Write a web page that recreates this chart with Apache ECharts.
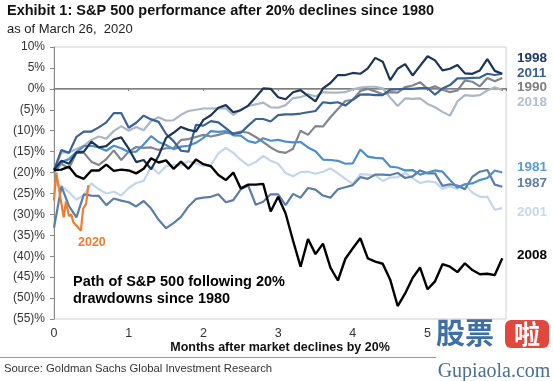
<!DOCTYPE html>
<html><head><meta charset="utf-8">
<script src="https://cdn.jsdelivr.net/npm/echarts@6/dist/echarts.min.js"></script>
<style>html,body{margin:0;padding:0;background:#fff}#c{width:553px;height:381px}</style>
</head><body><div id="c"></div>
<script>
// months after the 20% decline (calendar time)
const months = [0,0.1,0.2,0.3,0.4,0.5,0.6,0.7,0.8,0.9,1,1.1,1.2,1.3,1.4,1.5,1.6,1.7,1.8,1.9,2,2.1,2.2,2.3,2.4,2.5,2.6,2.7,2.8,2.9,3,3.1,3.2,3.3,3.4,3.5,3.6,3.7,3.8,3.9,4,4.1,4.2,4.3,4.4,4.5,4.6,4.7,4.8,4.9,5,5.1,5.2,5.3,5.4,5.5,5.6,5.7,5.8,5.9,6];
const months2020 = [0,0.03,0.13,0.16,0.2,0.23,0.26,0.36,0.39,0.43,0.46];

// S&P 500 drawdown from peak, %
const s1998 = [-19.3,-17.2,-17.9,-15.2,-15.0,-12.6,-14.0,-13.7,-12.1,-11.6,-14.3,-17.5,-17.0,-19.2,-16.0,-11.7,-10.5,-9.1,-9.8,-10.2,-7.4,-6.3,-4.5,-3.9,-5.6,-5.1,-4.0,-2.0,0.1,0.0,-2.0,-2.5,-0.8,-0.3,-1.7,-3.0,0.1,1.4,3.3,3.3,3.8,3.6,4.9,7.4,6.5,2.1,4.8,5.9,3.2,5.5,7.8,6.8,4.4,4.8,5.7,3.7,3.6,4.4,7.1,4.3,3.6];
const s2011 = [-19.4,-14.6,-15.3,-11.5,-10.2,-10.2,-9.2,-8.0,-5.8,-5.8,-9.3,-8.1,-6.4,-7.3,-7.9,-10.8,-12.5,-14.8,-15.0,-8.6,-8.8,-7.7,-8.0,-9.4,-10.8,-10.5,-8.8,-7.2,-7.2,-7.8,-6.3,-6.1,-6.1,-5.9,-5.6,-5.3,-3.2,-3.4,-3.2,-4.0,-2.6,-1.4,-1.3,-1.5,-1.5,-0.2,-0.1,0.0,0.0,0.2,0.2,-1.4,0.1,0.9,2.5,2.5,2.6,2.7,3.6,3.3,3.6];
const s1990 = [-19.9,-17.9,-19.0,-15.3,-15.3,-17.4,-18.2,-16.8,-14.7,-17.0,-15.0,-13.9,-14.1,-14.0,-14.6,-14.2,-14.2,-12.2,-12.0,-11.5,-11.0,-11.4,-11.0,-10.5,-10.6,-10.2,-10.5,-11.5,-12.7,-14.0,-15.0,-15.3,-14.3,-10.0,-11.0,-8.9,-9.0,-6.8,-4.8,-2.9,-2.6,-0.5,0.0,-0.6,-1.3,-0.8,-0.9,0.4,0.8,1.6,0.0,0.6,-0.2,-0.8,-0.4,2.0,1.7,0.6,2.6,1.8,2.6];
const s2018 = [-19.8,-15.1,-15.2,-14.4,-13.6,-12.2,-11.4,-11.9,-10.1,-8.9,-10.0,-9.1,-9.9,-7.7,-6.8,-7.6,-7.5,-6.2,-5.3,-5.0,-4.7,-4.7,-4.6,-4.7,-6.2,-5.0,-4.1,-3.7,-3.3,-4.4,-4.5,-3.9,-2.2,-2.0,-1.3,-1.8,-0.8,-0.9,-0.9,-0.8,-0.1,0.3,0.5,0.5,0.1,-2.1,-4.1,-2.3,-2.4,-2.3,-3.6,-4.4,-5.5,-6.4,-3.0,-1.5,-1.7,-1.5,-0.4,0.4,-0.3];
const s1981 = [-19.7,-17.5,-16.8,-15.1,-13.7,-13.6,-14.0,-14.8,-13.6,-14.2,-15.1,-15.0,-13.3,-11.3,-12.7,-13.4,-14.4,-13.8,-13.6,-12.9,-11.7,-10.1,-10.3,-10.1,-11.1,-11.2,-12.5,-12.9,-11.8,-12.4,-12.2,-12.6,-12.8,-12.7,-14.0,-14.9,-16.9,-17.0,-17.2,-17.9,-17.8,-14.5,-16.2,-16.5,-16.6,-18.6,-18.8,-19.5,-19.4,-20.5,-20.0,-19.5,-19.8,-21.8,-23.6,-22.8,-22.6,-21.8,-21.3,-19.5,-20.0];
const s1987 = [-33.2,-23.3,-28.0,-30.7,-25.2,-25.5,-25.6,-27.8,-26.2,-26.7,-27.1,-28.1,-26.8,-28.6,-31.3,-33.3,-32.1,-30.6,-28.1,-26.3,-26.0,-25.8,-25.2,-27.1,-26.6,-24.0,-23.1,-27.7,-27.0,-25.2,-25.2,-27.8,-25.1,-26.0,-23.7,-24.1,-25.5,-26.0,-24.0,-23.5,-23.0,-21.1,-21.5,-20.5,-20.5,-20.6,-20.1,-21.3,-20.9,-19.5,-20.2,-20.2,-23.2,-22.8,-23.1,-24.0,-21.0,-19.8,-19.4,-22.9,-23.4];
const s2001 = [-22.7,-23.2,-24.7,-26.5,-25.4,-22.6,-24.0,-25.0,-24.6,-25.5,-23.7,-22.5,-22.0,-18.6,-20.3,-18.5,-18.2,-18.3,-17.3,-17.8,-18.4,-18.2,-15.4,-14.1,-15.3,-17.0,-18.3,-17.5,-16.0,-17.2,-17.9,-20.1,-20.9,-19.9,-19.8,-20.3,-19.8,-19.0,-20.2,-21.5,-22.7,-20.4,-20.5,-20.7,-22.0,-21.2,-21.1,-20.1,-21.4,-22.5,-22.1,-22.3,-23.9,-23.3,-23.9,-22.8,-24.8,-25.8,-25.8,-28.9,-28.5];
const s2008 = [-19.4,-19.3,-18.6,-20.8,-21.5,-19.5,-19.5,-18.1,-19.6,-19.3,-19.5,-20.2,-19.1,-16.6,-17.6,-17.1,-19.1,-17.4,-19.1,-16.9,-18.0,-18.5,-20.6,-21.8,-20.0,-23.8,-22.9,-22.9,-22.7,-29.3,-25.8,-29.8,-36.3,-42.5,-35.9,-39.5,-37.0,-42.7,-45.8,-40.6,-38.1,-35.7,-40.5,-41.3,-41.8,-45.6,-51.9,-48.9,-45.2,-42.7,-47.9,-46.0,-41.9,-42.5,-43.8,-41.7,-43.3,-44.3,-44.2,-44.5,-40.5];
const s2020 = [-26.7,-20.0,-30.7,-26.9,-30.4,-30.0,-31.9,-33.9,-28.6,-27.5,-23.0];

const yearNames = ['2018','2001','1990','1987','1981','2011','1998','2008','2020'];
const yearValues = {'1998':s1998,'2011':s2011,'1990':s1990,'2018':s2018,'1981':s1981,'1987':s1987,'2001':s2001,'2008':s2008,'2020':s2020};
const yearMonths = {'2020':months2020};
const lineColors = {'1998':'#1b3557','2011':'#3a6296','1990':'#80868f','2018':'#aab7c8','1981':'#4d8fcc','1987':'#5b7ea8','2001':'#c3d6ec','2008':'#000000','2020':'#ed7d31'};
const labelColors = {'1998':'#1f3864','2011':'#3b5f8e','1990':'#808080','2018':'#b4c0d0','1981':'#5b9bd5','1987':'#5f7fa5','2001':'#c6d8ec','2008':'#000000'};
const labelY = {'1998':58,'2011':73,'1990':87,'2018':102,'1981':167,'1987':183,'2001':212,'2008':255};

const F = '"Liberation Sans", Arial, sans-serif';
const chart = echarts.init(document.getElementById('c'), null, {renderer:'canvas'});

const series = yearNames.map(n => {
  const xs = yearMonths[n] || months;
  return {
    name: n, type: 'line', symbol: 'none', smooth: false, animation: false,
    data: yearValues[n].map((v,i) => [xs[i], v]),
    lineStyle: {color: lineColors[n], width: n==='2008'?2.4:2.2},
    z: 2
  };
});

const graphic = [];
graphic.push({type:'text', x:7, y:11, style:{text:'Exhibit 1: S&P 500 performance after 20% declines since 1980', font:'bold 14.5px '+F, fill:'#111', verticalAlign:'middle'}});
graphic.push({type:'text', x:7, y:29, style:{text:'as of March 26,  2020', font:'13px '+F, fill:'#222', verticalAlign:'middle'}});
Object.keys(labelY).forEach(k => {
  graphic.push({type:'text', x:517, y:labelY[k], style:{text:k, font:'bold 13.5px '+F, fill:labelColors[k], verticalAlign:'middle'}});
});
graphic.push({type:'text', x:78, y:243, style:{text:'2020', font:'bold 12.5px '+F, fill:'#ed7d31', verticalAlign:'middle'}});
graphic.push({type:'text', x:73, y:282, style:{text:'Path of S&P 500 following 20%', font:'bold 14.5px '+F, fill:'#000', verticalAlign:'middle'}});
graphic.push({type:'text', x:73, y:299, style:{text:'drawdowns since 1980', font:'bold 14.5px '+F, fill:'#000', verticalAlign:'middle'}});
graphic.push({type:'text', x:280, y:348, style:{text:'Months after market declines by 20%', font:'bold 12.5px '+F, fill:'#111', align:'center', verticalAlign:'middle'}});
graphic.push({type:'line', shape:{x1:0, y1:357.5, x2:436, y2:357.5}, style:{stroke:'#9a9a9a', lineWidth:1}});
graphic.push({type:'text', x:4, y:369, style:{text:'Source: Goldman Sachs Global Investment Research', font:'11.3px '+F, fill:'#333', verticalAlign:'middle'}});
// watermark
graphic.push({type:'text', x:436, y:333, style:{text:'股票', font:'bold 29px "Noto Sans CJK SC"', fill:'#3e6fa6', verticalAlign:'middle'}});
graphic.push({type:'rect', shape:{x:505, y:320, width:44, height:28, r:6}, style:{fill:'#e2473d'}});
graphic.push({type:'text', x:527, y:334, style:{text:'啦', font:'bold 26px "Noto Sans CJK SC"', fill:'#ffffff', align:'center', verticalAlign:'middle'}});
graphic.push({type:'text', x:494, y:372, style:{text:'Gupiaola.com', font:'20px "Liberation Serif", serif', fill:'#4a6f93', align:'center', verticalAlign:'middle'}});

chart.setOption({
  animation: false,
  backgroundColor: '#fff',
  grid: {left:54, right:47, top:47, bottom:62, show:true, borderColor:'#cfcfcf', borderWidth:1},
  xAxis: [
    {type:'value', min:0, max:6.05, interval:1, position:'bottom',
     axisLine:{show:true, lineStyle:{color:'#a6a6a6'}}, axisTick:{show:false}, splitLine:{show:false},
     axisLabel:{color:'#333', fontSize:12.5, fontFamily:F, margin:8, formatter: v => v <= 5.5 ? String(v) : '', showMaxLabel:false}},
    {type:'value', min:0, max:6.05, interval:1, position:'bottom', offset:-231,
     axisLine:{show:true, lineStyle:{color:'#808080'}}, axisTick:{show:true, length:3, lineStyle:{color:'#808080'}},
     axisLabel:{show:false}, splitLine:{show:false}}
  ],
  yAxis: {type:'value', min:-55, max:10, interval:5,
    axisLine:{show:true, lineStyle:{color:'#8c8c8c'}}, axisTick:{show:true, length:4, lineStyle:{color:'#8c8c8c'}},
    splitLine:{show:false},
    axisLabel:{color:'#333', fontSize:12, fontFamily:F, margin:9, formatter: v => v < 0 ? '(' + (-v) + ')%' : v + '%'}},
  series: series,
  graphic: graphic
});
</script></body></html>
